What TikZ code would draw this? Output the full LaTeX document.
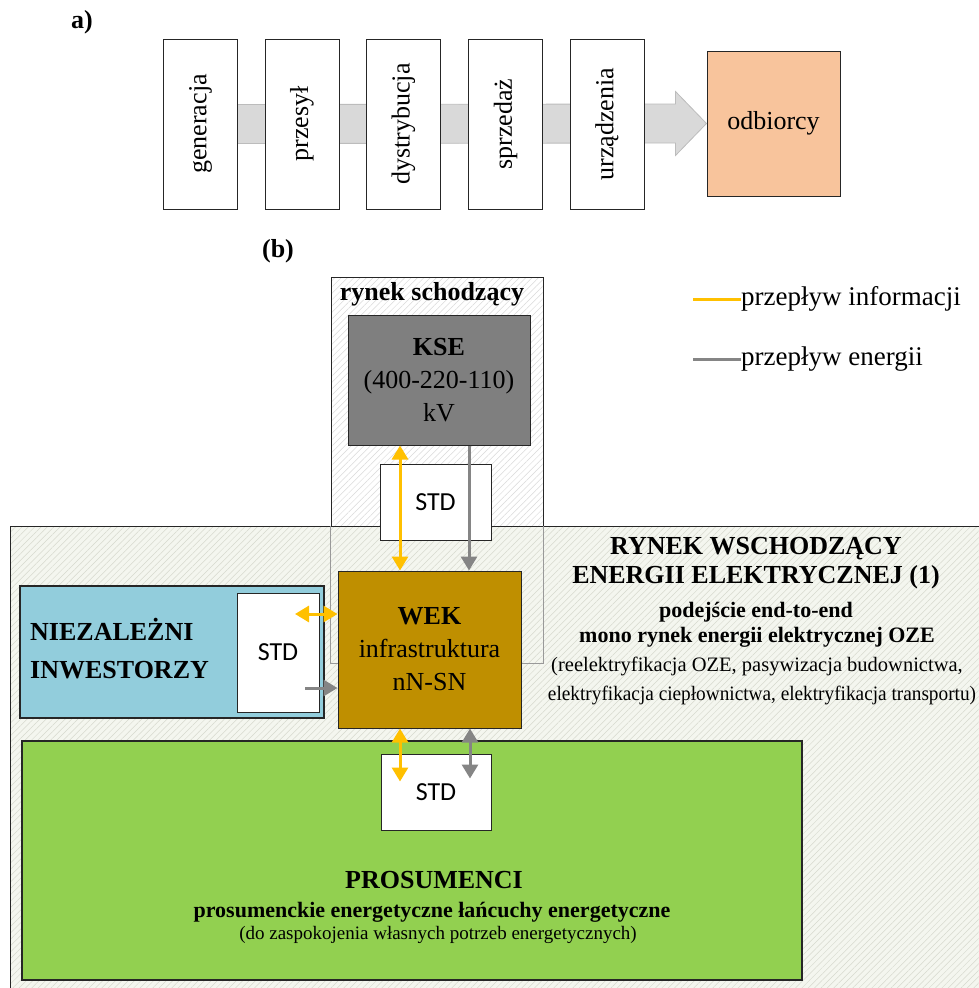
\documentclass[tikz,border=0pt]{standalone}
\usepackage{fontspec}
\setmainfont{Liberation Serif}
\newfontfamily\stdfont{Carlito}
\usetikzlibrary{arrows.meta,patterns.meta,calc}

\definecolor{infoC}{HTML}{FFC000}
\definecolor{energyC}{HTML}{858585}
\definecolor{kseC}{HTML}{7F7F7F}
\definecolor{wekC}{HTML}{BF8F00}
\definecolor{invC}{HTML}{92CDDC}
\definecolor{prosC}{HTML}{92D050}
\definecolor{odbC}{HTML}{F8C49C}
\definecolor{bandC}{HTML}{D9D9D9}
\definecolor{bandLine}{HTML}{BCBCBC}
\definecolor{edgeC}{HTML}{262626}
\definecolor{bigC}{HTML}{F4F6EF}
\definecolor{hatchA}{HTML}{DADADA}
\definecolor{hatchB}{HTML}{D6D9CE}

\newcommand{\setfs}[2]{\fontsize{#1}{#2}\selectfont}

\begin{document}
\begin{tikzpicture}[x=1pt,y=-1pt,
  chainbox/.style={draw=edgeC, line width=1pt, fill=white, inner sep=0pt,
    minimum width=74pt, minimum height=170pt, font=\setfs{26}{31}},
  stdbox/.style={draw=edgeC, line width=1pt, fill=white, inner sep=0pt,
    font=\stdfont\setfs{26}{31}},
  mainbox/.style={draw=edgeC, line width=1pt, inner sep=0pt, align=center,
    font=\setfs{26}{33}},
  infoarrow/.style={draw=infoC, line width=3pt, {Triangle[length=14pt,width=16pt]}-{Triangle[length=14pt,width=16pt]}},
  energyarrow/.style={draw=energyC, line width=3pt, -{Triangle[length=14pt,width=16pt]}},
  energyboth/.style={draw=energyC, line width=3pt, {Triangle[length=14pt,width=16pt]}-{Triangle[length=14pt,width=16pt]}},
  label/.style={inner sep=0pt, font=\bfseries\setfs{26}{31}},
  txt/.style={inner sep=0pt, anchor=base},
]
\useasboundingbox (0,0) rectangle (979,988);
\clip (0,0) rectangle (979,988);

% ---------- a) value chain ----------
\node[label] (la) at (82,22) {a)};

\node[chainbox] (gen) at (200.5,124) {\rotatebox{90}{generacja}};
\node[chainbox] (prz) at (302,124) {\rotatebox{90}{przesył}};
\node[chainbox] (dys) at (403.5,124) {\rotatebox{90}{dystrybucja}};
\node[chainbox] (spr) at (505.5,124) {\rotatebox{90}{sprzedaż}};
\node[chainbox] (urz) at (607,124) {\rotatebox{90}{urządzenia}};
\node[draw=edgeC, line width=1pt, fill=odbC, minimum width=133pt, minimum height=145pt,
      inner sep=0pt, font=\setfs{26}{31}] (odb) at (773.5,123.5) {odbiorcy};

% broad arrow behind the chain
\fill[bandC] ([yshift=19.5pt]gen.east) -- ([xshift=-31pt,yshift=19.5pt]odb.west)
  -- ([xshift=-31pt,yshift=32pt]odb.west) -- (odb.west)
  -- ([xshift=-31pt,yshift=-32pt]odb.west) -- ([xshift=-31pt,yshift=-19.5pt]odb.west)
  -- ([yshift=-19.5pt]gen.east) -- cycle;
\draw[bandLine, line width=0.8pt] ([yshift=19.5pt]gen.east) -- ([xshift=-31pt,yshift=19.5pt]odb.west)
  -- ([xshift=-31pt,yshift=32pt]odb.west) -- (odb.west)
  -- ([xshift=-31pt,yshift=-32pt]odb.west) -- ([xshift=-31pt,yshift=-19.5pt]odb.west)
  -- ([yshift=-19.5pt]gen.east);
% boxes drawn again over the band
\node[chainbox] at (prz) {\rotatebox{90}{przesył}};
\node[chainbox] at (dys) {\rotatebox{90}{dystrybucja}};
\node[chainbox] at (spr) {\rotatebox{90}{sprzedaż}};
\node[chainbox] at (urz) {\rotatebox{90}{urządzenia}};

% ---------- (b) market structure ----------
\node[label] (lb) at (278,251) {(b)};

% descending market frame
\node[draw=edgeC, line width=0.9pt, inner sep=0pt,
      preaction={fill=white}, pattern={Lines[angle=45,distance=4.5pt,line width=0.5pt]},
      pattern color=hatchA, minimum width=212pt, minimum height=386pt] (rs) at (437,470) {};
\node[label, anchor=base] (rsl) at (432,300.5) {rynek schodzący};

\node[mainbox, fill=kseC, minimum width=182pt, minimum height=130pt] (kse) at (439,380)
  {\textbf{KSE}\\(400-220-110)\\kV};

% emerging market frame
\node[draw=edgeC, line width=1pt, inner sep=0pt,
      preaction={fill=bigC}, pattern={Lines[angle=45,distance=4.5pt,line width=0.5pt]},
      pattern color=hatchB, minimum width=990pt, minimum height=474pt] (big) at (505,763) {};
% descending frame seen through the emerging one
\draw[black!40, line width=0.9pt] (rs.west |- big.north) -- (rs.south west) -- (rs.south east) -- (rs.east |- big.north);

\node[stdbox, minimum width=111pt, minimum height=76pt] (std1) at (435.5,502) {STD};

\node[txt, font=\bfseries\setfs{26}{31}] (r1) at (756,554.5) {RYNEK WSCHODZĄCY};
\node[txt, font=\bfseries\setfs{26}{31}] (r2) at (756,583.5) {ENERGII ELEKTRYCZNEJ (1)};
\node[txt, font=\bfseries\setfs{22}{26}] (r3) at (756,617) {podejście end-to-end};
\node[txt, font=\bfseries\setfs{22}{26}] (r4) at (757,642) {mono rynek energii elektrycznej OZE};
\node[txt, font=\setfs{20.5}{24}] (r5) at (757,671) {(reelektryfikacja OZE, pasywizacja budownictwa,};
\node[txt, font=\setfs{20.5}{24}] (r6) at (762,700) {\scalebox{0.94}[1]{elektryfikacja ciepłownictwa, elektryfikacja transportu)}};

% independent investors
\node[draw=edgeC, line width=1.2pt, fill=invC, minimum width=304pt, minimum height=132pt, inner sep=0pt] (inv) at (172,652) {};
\node[anchor=west, align=left, inner sep=0pt, font=\bfseries\setfs{26}{38}] (invl) at (30,649) {NIEZALEŻNI\\INWESTORZY};
\node[stdbox, minimum width=82pt, minimum height=119pt] (std2) at (278,652.5) {STD};

% distribution infrastructure
\node[mainbox, fill=wekC, minimum width=183pt, minimum height=157pt] (wek) at (429.5,649.5)
  {\textbf{WEK}\\infrastruktura\\nN-SN};

% prosumers
\node[draw=edgeC, line width=1.2pt, fill=prosC, minimum width=780pt, minimum height=239pt, inner sep=0pt] (pros) at (412,860.5) {};
\node[stdbox, minimum width=110pt, minimum height=76pt] (std3) at (436,792) {STD};
\node[txt, font=\bfseries\setfs{26}{31}] (p1) at (434,888.5) {PROSUMENCI};
\node[txt, font=\bfseries\setfs{22}{26}] (p2) at (432,917) {prosumenckie energetyczne łańcuchy energetyczne};
\node[txt, font=\setfs{19}{23}] (p3) at (438,939) {(do zaspokojenia własnych potrzeb energetycznych)};

% flows
\draw[infoarrow] ([xshift=-39pt]kse.south) -- ([xshift=-29.5pt]wek.north);
\draw[energyarrow] ([xshift=30pt]kse.south) -- ([xshift=39.5pt]wek.north);

\draw[infoarrow] ([xshift=17pt,yshift=38.5pt]std2.center) -- ([yshift=35.5pt]wek.west);
\draw[energyarrow] ([xshift=27pt,yshift=-35.5pt]std2.center) -- ([yshift=-38.5pt]wek.west);

\draw[infoarrow] ([xshift=-29.5pt]wek.south) -- ([xshift=-36pt,yshift=-28pt]std3.north);
\draw[energyboth] ([xshift=40.5pt]wek.south) -- ([xshift=34pt,yshift=-25pt]std3.north);

% legend
\node[anchor=west, inner sep=0pt, font=\setfs{27}{31}] (leg1) at (741,299) {przepływ informacji};
\node[anchor=west, inner sep=0pt, font=\setfs{27}{31}] (leg2) at (741,359) {przepływ energii};
\draw[infoC, line width=3pt] (leg1.west) -- ++(-48,0);
\draw[energyC, line width=3pt] (leg2.west) -- ++(-48,0);
\end{tikzpicture}
\end{document}
